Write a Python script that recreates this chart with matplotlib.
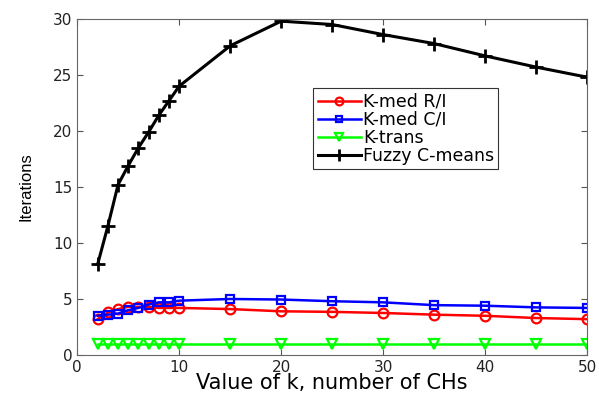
import matplotlib
matplotlib.use('Agg')
import matplotlib.pyplot as plt

plt.rcParams['font.family'] = ['DejaVu Sans']

# number of cluster heads
k_vals = [2, 3, 4, 5, 6, 7, 8, 9, 10, 15, 20, 25, 30, 35, 40, 45, 50]

# iterations for each method
kmed_ri = [3.2, 3.8, 4.1, 4.3, 4.3, 4.3, 4.2, 4.2, 4.2, 4.1, 3.9, 3.85, 3.75, 3.6, 3.5, 3.3, 3.2]
kmed_ci = [3.5, 3.6, 3.7, 4.0, 4.2, 4.5, 4.7, 4.7, 4.85, 5.0, 4.95, 4.8, 4.7, 4.45, 4.4, 4.25, 4.2]
ktrans = [1, 1, 1, 1, 1, 1, 1, 1, 1, 1, 1, 1, 1, 1, 1, 1, 1]
fuzzy = [8.1, 11.5, 15.2, 16.9, 18.5, 19.9, 21.4, 22.7, 24.0, 27.6, 29.8, 29.5, 28.6, 27.8, 26.7, 25.7, 24.8]

fig = plt.figure(figsize=(5.99, 3.94), dpi=100)
ax = fig.add_axes([0.129, 0.099, 0.851, 0.853])

ax.plot(k_vals, kmed_ri, color='red', marker='o', ms=7, mfc='none', mew=1.6, lw=1.8, label='K-med R/I')
ax.plot(k_vals, kmed_ci, color='blue', marker='s', ms=6, mfc='none', mew=1.6, lw=1.8, label='K-med C/I')
ax.plot(k_vals, ktrans, color='#00ff00', marker='v', ms=7, mfc='none', mew=1.6, lw=1.8, label='K-trans')
ax.plot(k_vals, fuzzy, color='black', marker='+', ms=10, mew=2, lw=2.2, label='Fuzzy C-means')

ax.set_xlim(0, 50)
ax.set_ylim(0, 30)
ax.set_xticks([0, 10, 20, 30, 40, 50])
ax.set_yticks([0, 5, 10, 15, 20, 25, 30])
ax.tick_params(direction='in', top=True, right=True, labelsize=11, length=4, color='#555555',
               labelcolor='#222222')
for s in ax.spines.values():
    s.set_color('#666666')

ax.set_xlabel('Value of k, number of CHs', fontsize=15, labelpad=-1)
ax.set_ylabel('Iterations', fontsize=12, labelpad=14, family='Liberation Sans')

leg = ax.legend(loc='upper left', bbox_to_anchor=(0.463, 0.793), fontsize=12.5, fancybox=False,
                edgecolor='#333333', framealpha=1, handlelength=2.5, handletextpad=0.1,
                borderpad=0.25, labelspacing=0.0, borderaxespad=0, markerscale=0.8)
leg.get_frame().set_linewidth(0.8)

fig.savefig('out.png', dpi=100)
